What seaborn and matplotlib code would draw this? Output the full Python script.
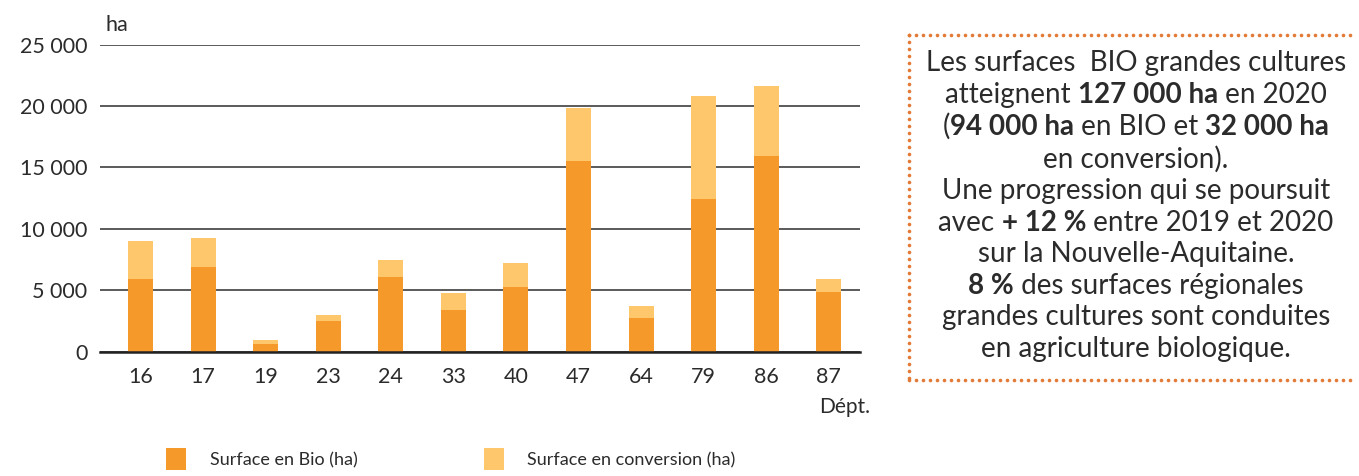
import numpy as np
import pandas as pd
import matplotlib
matplotlib.use("Agg")
import matplotlib.pyplot as plt
import seaborn as sns
from matplotlib.patches import Patch
from matplotlib.lines import Line2D
from matplotlib.offsetbox import TextArea, HPacker, VPacker, AnchoredOffsetbox

# ---- data ----
depts = ["16", "17", "19", "23", "24", "33", "40", "47", "64", "79", "86", "87"]
bio = [5900, 6900, 650, 2500, 6100, 3400, 5300, 15550, 2750, 12450, 15950, 4850]
conversion = [3100, 2350, 300, 500, 1350, 1400, 1950, 4300, 1000, 8400, 5700, 1050]
yticks = [0, 5000, 10000, 15000, 20000, 25000]
legend_labels = ["Surface en Bio (ha)", "Surface en conversion (ha)"]

C_BIO = "#F6992B"
C_CONV = "#FEC76B"
TXT = "#2b2b2b"

sns.set_style("white")
FONT = "Lato"
plt.rcParams["font.family"] = [FONT, "DejaVu Sans"]

df = pd.DataFrame({"dept": depts, "bio": bio, "conv": conversion})
df["total"] = df["bio"] + df["conv"]

W, H = 1359, 476
fig = plt.figure(figsize=(W / 100, H / 100), dpi=100)
ax = fig.add_axes([100 / W, 1 - 351.7 / H, 760 / W, 307 / H])

sns.barplot(data=df, x="dept", y="total", color=C_CONV, width=0.4,
            saturation=1, ax=ax, zorder=3, linewidth=0, edgecolor="none")
sns.barplot(data=df, x="dept", y="bio", color=C_BIO, width=0.4,
            saturation=1, ax=ax, zorder=4, linewidth=0, edgecolor="none")

ax.set_xlim(-0.65, 11.5)
ax.set_ylim(0, 25000)
ax.set_yticks(yticks)
ax.set_yticklabels([f"{v:,}".replace(",", " ") for v in yticks])
ax.set_xlabel("")
ax.set_ylabel("")
ax.grid(axis="y", color="#5a5a5a", linewidth=1.4, zorder=0)
ax.set_axisbelow(True)
for s in ["top", "right", "left"]:
    ax.spines[s].set_visible(False)
ax.spines["bottom"].set_color("#222222")
ax.spines["bottom"].set_linewidth(1.8)
ax.spines["bottom"].set_zorder(5)
ax.tick_params(axis="both", length=0, labelsize=15.5, colors=TXT)
ax.tick_params(axis="y", pad=9)
ax.tick_params(axis="x", pad=11)

fig.text(105 / W, 1 - 25 / H, "ha", fontsize=15.5, color=TXT,
         va="center", ha="left")
fig.text(870 / W, 1 - 407 / H, "Dépt.", fontsize=15, color=TXT,
         va="center", ha="right")

# legend
handles = [Patch(facecolor=C_BIO, edgecolor="none"),
           Patch(facecolor=C_CONV, edgecolor="none")]
fig.legend(handles, legend_labels, loc="center left",
           bbox_to_anchor=(150 / W, 1 - 459 / H), ncol=2, frameon=False,
           handlelength=1.1, handleheight=1.45,
           handletextpad=1.3, columnspacing=7.0, labelcolor=TXT,
           prop={"family": [FONT, "DejaVu Sans"], "size": 13})

# dotted box (top, left, bottom) drawn as round dots
DOT = "#E27A35"
step = 7.0
xs_h = np.arange(909, 1353, step)
ys_v = np.arange(35, 381, step)
for xs, ys in [(xs_h, np.full_like(xs_h, 35.0)),
               (xs_h, np.full_like(xs_h, 380.0)),
               (np.full_like(ys_v, 909.0), ys_v)]:
    fig.add_artist(Line2D(xs / W, 1 - ys / H, transform=fig.transFigure,
                          linestyle="none", marker="o", markersize=2.6,
                          markerfacecolor=DOT, markeredgecolor="none"))

lines = [
    [("Les surfaces  BIO grandes cultures", False)],
    [("atteignent ", False), ("127 000 ha", True), (" en 2020", False)],
    [("(", False), ("94 000 ha", True), (" en BIO et ", False), ("32 000 ha", True)],
    [("en conversion).", False)],
    [("Une progression qui se poursuit", False)],
    [("avec ", False), ("+ 12 %", True), (" entre 2019 et 2020", False)],
    [("sur la Nouvelle-Aquitaine.", False)],
    [("8 %", True), (" des surfaces régionales", False)],
    [("grandes cultures sont conduites", False)],
    [("en agriculture biologique.", False)],
]
FS = 20
rows = []
for ln in lines:
    parts = []
    for txt, b in ln:
        parts.append(TextArea(txt, textprops=dict(
            fontsize=FS, color=TXT, fontweight="bold" if b else "normal",
            family=[FONT, "DejaVu Sans"])))
    rows.append(HPacker(children=parts, pad=0, sep=0, align="baseline"))
box = VPacker(children=rows, pad=0, sep=4.0, align="center")
anch = AnchoredOffsetbox(loc="center", child=box, frameon=False,
                         bbox_to_anchor=(1136 / W, 1 - 206 / H),
                         bbox_transform=fig.transFigure, pad=0, borderpad=0)
fig.add_artist(anch)

fig.savefig("out.png", dpi=100)
